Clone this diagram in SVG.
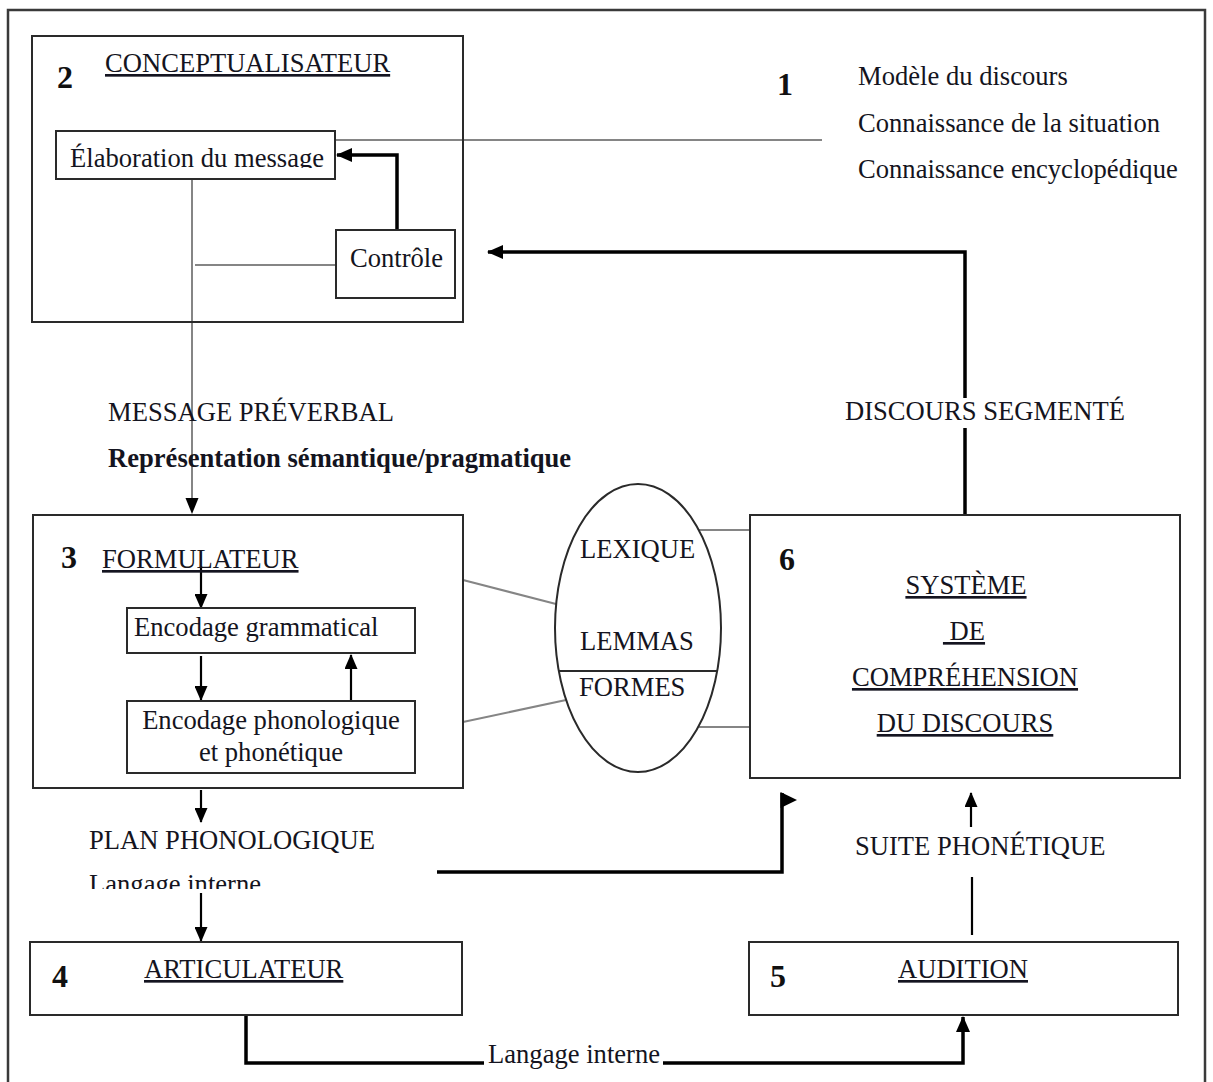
<svg xmlns="http://www.w3.org/2000/svg" width="1213" height="1082" viewBox="0 0 1213 1082">
  <style>
    .t{font-family:"Liberation Serif","Times New Roman",serif;font-size:26.6px;fill:#141420}
    .b{font-weight:bold}
    .u{text-decoration:underline}
    .num{font-family:"Liberation Serif","Times New Roman",serif;font-size:32px;font-weight:bold;fill:#111}
    .box{fill:#fff;stroke:#2a2a2a;stroke-width:2}
    .open{fill:none}
    .frame{fill:none;stroke:#3a3a3a;stroke-width:2.5}
    .grey{fill:none;stroke:#858585;stroke-width:2}
    .heavy{fill:none;stroke:#000;stroke-width:3.5}
    .line{fill:none;stroke:#000;stroke-width:2.2}
    .head{fill:#000}
  </style>
  <defs>
    <marker id="arrow" viewBox="0 0 16 14" refX="15" refY="7" markerWidth="16" markerHeight="14" markerUnits="userSpaceOnUse" orient="auto">
      <path d="M0,0 L16,7 L0,14 z" fill="#000"/>
    </marker>
    <marker id="arrowSm" viewBox="0 0 15 13" refX="14" refY="6.5" markerWidth="15" markerHeight="13" markerUnits="userSpaceOnUse" orient="auto">
      <path d="M0,0 L15,6.5 L0,13 z" fill="#000"/>
    </marker>
    <clipPath id="clipElab"><rect x="56" y="131" width="279" height="37"/></clipPath>
    <clipPath id="clipInterne"><rect x="80" y="860" width="200" height="29"/></clipPath>
  </defs>

  <rect width="1213" height="1082" fill="#fff"/>
  <!-- outer frame, open at the bottom of the page -->
  <rect class="frame" x="8" y="10" width="1197" height="1090"/>

  <!-- connectors -->
  <g id="connectors">
    <!-- knowledge store link -->
    <path class="grey" d="M335,140 H822"/>
    <!-- preverbal message -->
    <path class="grey" d="M192,179 V500"/>
    <path class="head" d="M185.5,498 L198.5,498 L192,514 z"/>
    <path class="grey" d="M195,265 H336"/>
    <!-- monitoring loop -->
    <path class="heavy" d="M397,231 V155 H337" marker-end="url(#arrow)"/>
    <!-- parsed speech back to the conceptualizer -->
    <path class="heavy" d="M965,515 V428"/>
    <path class="heavy" d="M965,398 V252 H488" marker-end="url(#arrow)"/>
    <!-- formulator internals -->
    <path class="line" d="M201,566 V608" marker-end="url(#arrowSm)"/>
    <path class="line" d="M201,656 V700" marker-end="url(#arrowSm)"/>
    <path class="line" d="M351,700 V655" marker-end="url(#arrowSm)"/>
    <path class="line" d="M201,790 V822" marker-end="url(#arrowSm)"/>
    <path class="line" d="M201,893 V941" marker-end="url(#arrowSm)"/>
    <!-- lexicon links -->
    <path class="grey" d="M463,580 L556,604"/>
    <path class="grey" d="M463,722 L566,700"/>
    <path class="grey" d="M699,530 H750"/>
    <path class="grey" d="M699,727 H750"/>
    <!-- phonetic plan to comprehension -->
    <path class="heavy" d="M437,872 H782 V793"/>
    <path class="head" d="M780.5,792 L797,800 L780.5,808 z"/>
    <!-- phonetic string -->
    <path class="line" d="M972,935 V877"/>
    <path class="line" d="M971,827 V793" marker-end="url(#arrowSm)"/>
    <!-- overt speech to audition -->
    <path class="heavy" d="M246,1015 V1063 H484"/>
    <path class="heavy" d="M663,1063 H963 V1017" marker-end="url(#arrow)"/>
  </g>

  <!-- 1 : knowledge -->
  <g id="node-1">
    <text class="num" x="777" y="95">1</text>
    <text class="t" x="858" y="85">Modèle du discours</text>
    <text class="t" x="858" y="132">Connaissance de la situation</text>
    <text class="t" x="858" y="178">Connaissance encyclopédique</text>
  </g>

  <!-- 2 : conceptualizer -->
  <g id="node-2">
    <rect class="box open" x="32" y="36" width="431" height="286"/>
    <text class="num" x="57" y="88">2</text>
    <text class="t u" x="105" y="72">CONCEPTUALISATEUR</text>
  </g>
  <g id="node-elaboration">
    <rect class="box" x="56" y="131" width="279" height="48"/>
    <text class="t" x="70" y="167" clip-path="url(#clipElab)">Élaboration du message</text>
  </g>
  <g id="node-controle">
    <rect class="box" x="336" y="230" width="119" height="68"/>
    <text class="t" x="350" y="267">Contrôle</text>
  </g>

  <!-- labels along the message path -->
  <g id="labels-message">
    <text class="t" x="108" y="421">MESSAGE PRÉVERBAL</text>
    <text class="t b" x="108" y="467">Représentation sémantique/pragmatique</text>
    <text class="t" x="845" y="420">DISCOURS SEGMENTÉ</text>
  </g>

  <!-- 3 : formulator -->
  <g id="node-3">
    <rect class="box open" x="33" y="515" width="430" height="273"/>
    <text class="num" x="61" y="568">3</text>
    <text class="t u" x="102" y="568">FORMULATEUR</text>
  </g>
  <g id="node-grammatical">
    <rect class="box" x="127" y="608" width="288" height="45"/>
    <text class="t" x="134" y="636">Encodage grammatical</text>
  </g>
  <g id="node-phonologique">
    <rect class="box" x="127" y="701" width="288" height="72"/>
    <text class="t" x="271" y="729" text-anchor="middle">Encodage phonologique</text>
    <text class="t" x="271" y="761" text-anchor="middle">et phonétique</text>
  </g>

  <!-- lexicon -->
  <g id="node-lexique">
    <ellipse cx="638" cy="628" rx="83" ry="144" fill="none" stroke="#2a2a2a" stroke-width="2"/>
    <path d="M559,671 H717" stroke="#2a2a2a" stroke-width="2"/>
    <text class="t" x="580" y="558">LEXIQUE</text>
    <text class="t" x="580" y="650">LEMMAS</text>
    <text class="t" x="579" y="696">FORMES</text>
  </g>

  <!-- 6 : speech comprehension -->
  <g id="node-6">
    <rect class="box" x="750" y="515" width="430" height="263"/>
    <text class="num" x="779" y="570">6</text>
    <text class="t u" x="966" y="594" text-anchor="middle">SYSTÈME</text>
    <text class="t u" x="964" y="640" text-anchor="middle" style="white-space:pre"> DE</text>
    <text class="t u" x="965" y="686" text-anchor="middle">COMPRÉHENSION</text>
    <text class="t u" x="965" y="732" text-anchor="middle">DU DISCOURS</text>
  </g>

  <g id="labels-plan">
    <text class="t" x="89" y="849">PLAN PHONOLOGIQUE</text>
    <text class="t" x="89" y="893" clip-path="url(#clipInterne)">Langage interne</text>
    <text class="t" x="855" y="855">SUITE PHONÉTIQUE</text>
    <text class="t" x="488" y="1063">Langage interne</text>
  </g>

  <!-- 4 : articulator -->
  <g id="node-4">
    <rect class="box" x="30" y="942" width="432" height="73"/>
    <text class="num" x="52" y="987">4</text>
    <text class="t u" x="144" y="978">ARTICULATEUR</text>
  </g>

  <!-- 5 : audition -->
  <g id="node-5">
    <rect class="box" x="749" y="942" width="429" height="73"/>
    <text class="num" x="770" y="987">5</text>
    <text class="t u" x="898" y="978">AUDITION</text>
  </g>
</svg>
